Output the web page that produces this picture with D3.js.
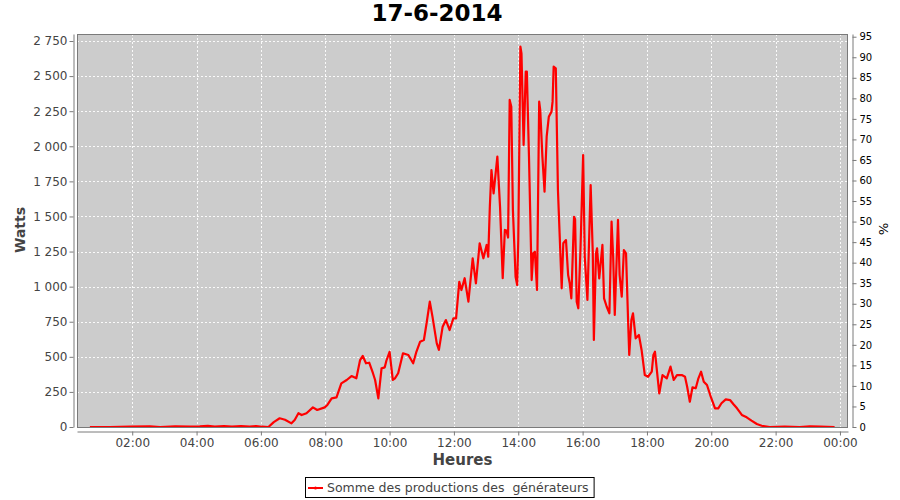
<!DOCTYPE html>
<html><head><meta charset="utf-8">
<script src="https://cdn.jsdelivr.net/npm/d3@7"></script>
<style>
body{margin:0;background:#fff;}
svg text{font-family:"DejaVu Sans",sans-serif;}
</style></head><body>
<svg id="chart" width="900" height="500"></svg>
<script>
const chartTitle = "17-6-2014";
const seriesName = "Somme des productions des  générateurs";
const yLabel = "Watts";
const xLabel = "Heures";
const y2Label = "%";

const times = ["00:41","01:18","01:56","02:33","02:52","03:20","03:48","04:06","04:21","04:34","04:51","05:06","05:23","05:39","05:51","06:02","06:14","06:24","06:35","06:45","06:57","07:03","07:10","07:16","07:25","07:37","07:45","07:59","08:04","08:12","08:21","08:30","08:40","08:49","08:58","09:05","09:10","09:16","09:22","09:29","09:33","09:39","09:45","09:51","09:54","10:00","10:06","10:10","10:16","10:25","10:35","10:44","10:50","10:57","11:04","11:09","11:15","11:20","11:28","11:32","11:39","11:45","11:52","11:59","12:04","12:10","12:14","12:20","12:27","12:35","12:41","12:48","12:55","13:01","13:04","13:07","13:10","13:14","13:21","13:26","13:31","13:35","13:38","13:41","13:44","13:47","13:50","13:55","13:58","14:00","14:04","14:06","14:10","14:14","14:16","14:20","14:25","14:28","14:31","14:35","14:39","14:41","14:45","14:49","14:53","14:57","15:02","15:04","15:06","15:10","15:14","15:21","15:24","15:29","15:33","15:36","15:39","15:44","15:46","15:49","15:52","15:56","16:01","16:04","16:09","16:15","16:19","16:21","16:25","16:27","16:31","16:37","16:40","16:45","16:50","16:54","16:57","17:00","17:06","17:09","17:13","17:17","17:21","17:25","17:27","17:31","17:34","17:39","17:45","17:50","17:56","18:02","18:09","18:12","18:15","18:23","18:29","18:37","18:44","18:50","18:56","19:05","19:11","19:15","19:20","19:25","19:31","19:36","19:41","19:46","19:52","19:59","20:07","20:13","20:19","20:27","20:35","20:41","20:48","20:57","21:06","21:15","21:25","21:34","21:49","22:17","22:45","23:04","23:23","23:50"];

const watts = [0,0,2,4,0,5,2,4,8,3,7,2,6,3,7,2,0,35,62,52,26,50,98,85,98,140,121,140,157,204,211,311,335,363,347,477,506,454,458,383,335,204,418,425,472,536,335,347,383,525,513,454,536,608,620,739,893,786,596,549,715,762,691,774,774,1035,976,1060,893,1202,1024,1309,1202,1297,1213,1570,1831,1665,1926,1570,1060,1404,1400,1350,2330,2282,1546,1071,1012,1332,2710,2662,2009,2532,2532,1926,1047,1238,1249,976,2318,2258,1926,1677,2068,2211,2247,2318,2567,2555,1689,988,1309,1332,1083,1024,917,1498,1480,893,846,1261,1938,1213,905,1724,1238,620,1238,1273,1059,1297,917,857,810,1463,1213,798,1475,1083,928,1261,1238,739,513,762,810,632,656,549,370,358,394,513,536,240,370,347,430,335,370,370,358,287,180,283,276,347,394,323,299,216,133,133,169,197,192,164,133,86,69,45,21,9,0,3,0,5,2,0];

const yTicks = [0,250,500,750,1000,1250,1500,1750,2000,2250,2500,2750];
const pctTicks = [0,5,10,15,20,25,30,35,40,45,50,55,60,65,70,75,80,85,90,95];
const xTickLabels = ["02:00","04:00","06:00","08:00","10:00","12:00","14:00","16:00","18:00","20:00","22:00","00:00"];

const svg = d3.select("#chart");
const plot = {left:77, right:848, top:34, bottom:427};

const day = "2014-06-17";
const parseT = d3.timeParse("%Y-%m-%d %H:%M");
const toDate = (hm, dayOffset) => d3.timeDay.offset(parseT(day + " " + hm), dayOffset || 0);
const data = times.map((t,i) => ({t: toDate(t), v: watts[i]}));

const x = d3.scaleTime()
  .domain([toDate("00:17"), toDate("00:15", 1)])
  .range([plot.left, plot.right]);
const y = d3.scaleLinear().domain([0, 2800]).range([plot.bottom, plot.top]);
const y2 = d3.scaleLinear().domain([0, 95.66]).range([plot.bottom, plot.top]);

const xTickDates = xTickLabels.map((s,i) => toDate(s, i === xTickLabels.length-1 ? 1 : 0));

const frLocale = d3.formatLocale({decimal:",", thousands:"\u00a0", grouping:[3], currency:["","€"]});
const fmt = frLocale.format(",d");

// plot background
svg.append("rect").attr("x",plot.left).attr("y",plot.top)
  .attr("width",plot.right-plot.left).attr("height",plot.bottom-plot.top)
  .attr("fill","#cccccc");

// gridlines
const grid = svg.append("g").attr("stroke","#ffffff").attr("stroke-width",1).attr("stroke-dasharray","2,2").attr("opacity",0.9);
grid.selectAll("line.h").data(yTicks).join("line").attr("class","h")
  .attr("x1",plot.left).attr("x2",plot.right)
  .attr("y1",d=>Math.round(y(d))+0.5).attr("y2",d=>Math.round(y(d))+0.5);
grid.selectAll("line.v").data(xTickDates).join("line").attr("class","v")
  .attr("y1",plot.top).attr("y2",plot.bottom)
  .attr("x1",d=>Math.round(x(d))+0.5).attr("x2",d=>Math.round(x(d))+0.5);

// clip
svg.append("clipPath").attr("id","clip").append("rect")
  .attr("x",plot.left).attr("y",plot.top-2)
  .attr("width",plot.right-plot.left).attr("height",plot.bottom-plot.top+2);

// line
const line = d3.line().x(d=>x(d.t)).y(d=>y(d.v));
svg.append("path").datum(data).attr("clip-path","url(#clip)")
  .attr("fill","none").attr("stroke","#ff0000").attr("stroke-width",2.2)
  .attr("stroke-linejoin","round").attr("d",line);

// plot border
svg.append("rect").attr("x",plot.left+0.5).attr("y",plot.top+0.5)
  .attr("width",plot.right-plot.left-1).attr("height",plot.bottom-plot.top)
  .attr("fill","none").attr("stroke","#7a7a7a").attr("stroke-width",1);

// axes
const axisColor = "#7a7a7a";
const gL = svg.append("g").attr("transform","translate(73.5,0)")
  .call(d3.axisLeft(y).tickValues(yTicks).tickFormat(fmt).tickSize(4).tickSizeOuter(0).tickPadding(2));
const gB = svg.append("g").attr("transform","translate(0,431.5)")
  .call(d3.axisBottom(x).tickValues(xTickDates).tickFormat((d,i)=>xTickLabels[i]).tickSize(4).tickSizeOuter(0).tickPadding(3));
const gR = svg.append("g").attr("transform","translate(852.5,0)")
  .call(d3.axisRight(y2).tickValues(pctTicks).tickFormat(d3.format("d")).tickSize(4).tickSizeOuter(0).tickPadding(3));

[gL,gB,gR].forEach(g=>{
  g.select(".domain").attr("stroke",axisColor);
  g.selectAll(".tick line").attr("stroke",axisColor);
  g.selectAll("text").attr("font-family","DejaVu Sans, sans-serif");
});
gL.selectAll("text").attr("font-size",12).attr("fill","#444444");
gB.selectAll("text").attr("font-size",12).attr("fill","#444444");
gR.selectAll("text").attr("font-size",10).attr("fill","#000000");

// title
svg.append("text").attr("x",437).attr("y",21).attr("text-anchor","middle")
  .attr("font-size",23).attr("font-weight","bold").attr("fill","#000").text(chartTitle);

// axis labels
svg.append("text").attr("transform","translate(25,230) rotate(-90)").attr("text-anchor","middle")
  .attr("font-size",14).attr("font-weight","bold").attr("fill","#444444").text(yLabel);
svg.append("text").attr("x",(plot.left+plot.right)/2).attr("y",465).attr("text-anchor","middle")
  .attr("font-size",15).attr("font-weight","bold").attr("fill","#444444").text(xLabel);
svg.append("text").attr("transform","translate(879,229) rotate(90)").attr("text-anchor","middle")
  .attr("font-size",13).attr("fill","#000").text(y2Label);

// legend
const lg = svg.append("g");
const lt = lg.append("text").attr("x",327).attr("y",492).attr("font-size",12.5).attr("fill","#444444")
  .style("white-space","pre").attr("xml:space","preserve").text(seriesName);
const tw = lt.node().getComputedTextLength();
const lx0 = 305, lx1 = 327 + tw + 5;
lg.insert("rect","text").attr("x",lx0+0.5).attr("y",477.5).attr("width",lx1-lx0).attr("height",20)
  .attr("fill","#fff").attr("stroke","#000").attr("stroke-width",1);
lg.append("line").attr("x1",308).attr("x2",323).attr("y1",488).attr("y2",488)
  .attr("stroke","#ff0000").attr("stroke-width",2);
lg.append("circle").attr("cx",315.5).attr("cy",488).attr("r",1.5).attr("fill","#ff0000");
</script>
</body></html>
